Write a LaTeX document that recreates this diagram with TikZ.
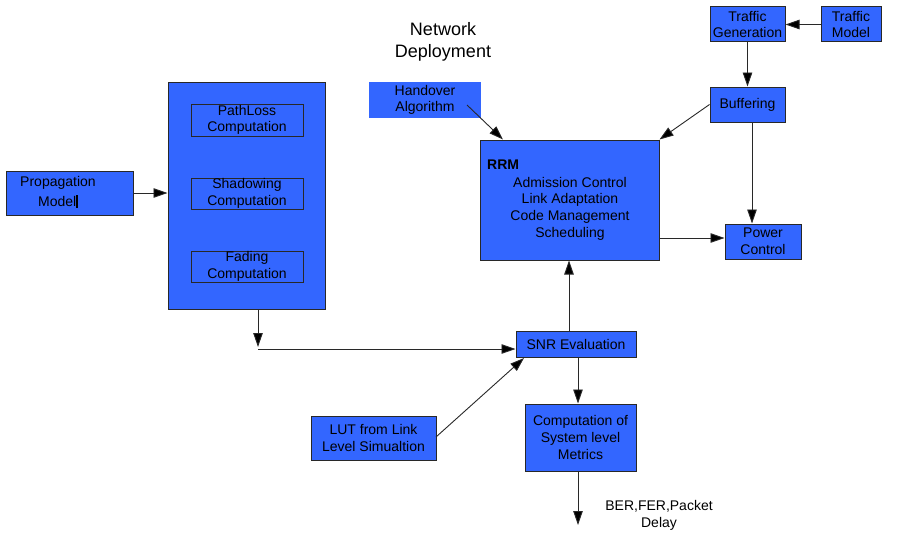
\documentclass[tikz,border=0pt]{standalone}
\usepackage{fontspec}
\setmainfont{Liberation Sans}
\usetikzlibrary{arrows.meta}
\definecolor{bfill}{RGB}{51,102,255}
\definecolor{lcol}{RGB}{40,40,40}
\begin{document}
\begin{tikzpicture}[x=1pt,y=-1pt,
  box/.style={draw=lcol, fill=bfill, line width=1pt, inner sep=0pt, align=center,
    font=\fontsize{14}{16.7}\selectfont},
  plain/.style={fill=bfill, inner sep=0pt, align=center, font=\fontsize{14}{16.7}\selectfont},
  txt/.style={inner sep=0pt, align=center, font=\fontsize{14}{16.7}\selectfont},
  arr/.style={draw=lcol, line width=0.9pt, -{Triangle[length=14pt,width=9.5pt,fill=black]}},
  ln/.style={draw=lcol, line width=0.9pt}]
\useasboundingbox (0,0) rectangle (899,535);
% boxes
\node[box, minimum width=127pt, minimum height=44pt] (prop) at (69.5,193) {};
\node[txt, font=\fontsize{14}{20}\selectfont] (propt) at (58,192) {Propagation\\Model\rule[-1.5pt]{1.6pt}{12.5pt}};
\node[box, minimum width=157pt, minimum height=227pt] (big) at (246.5,195.5) {};
\node[box, minimum width=112pt, minimum height=32pt] (pl) at (247,120) {PathLoss\\Computation};
\node[box, minimum width=112pt, minimum height=31pt] (sh) at (247,193.5) {Shadowing\\Computation};
\node[box, minimum width=112pt, minimum height=31pt] (fa) at (247,266.5) {Fading\\Computation};
\node[plain, minimum width=112pt, minimum height=36pt] (ho) at (425,100) {Handover\\Algorithm};
\node[txt, font=\fontsize{18}{22}\selectfont] (nd) at (443,41.5) {Network\\Deployment};
\node[box, minimum width=179pt, minimum height=120pt] (rrm) at (569.5,200) {};
\node[txt, anchor=west, font=\fontsize{14}{16.7}\selectfont\bfseries] (rrml) at (487,165) {RRM};
\node[txt] (rrmt) at (570,208.5) {Admission Control\\Link Adaptation\\Code Management\\Scheduling};
\node[box, minimum width=75pt, minimum height=35pt] (tg) at (747.5,24.5) {Traffic\\Generation};
\node[box, minimum width=60pt, minimum height=35pt] (tm) at (851,24.5) {Traffic\\Model};
\node[box, minimum width=75pt, minimum height=35pt] (buf) at (747.5,104.5) {Buffering};
\node[box, minimum width=76pt, minimum height=35pt] (pc) at (763,241.5) {Power\\Control};
\node[box, minimum width=120pt, minimum height=26pt] (snr) at (576,344) {SNR Evaluation};
\node[box, minimum width=125pt, minimum height=44pt] (lut) at (373.5,438) {LUT from Link\\Level Simualtion};
\node[box, minimum width=111pt, minimum height=67pt] (csm) at (580.5,437.5) {Computation of\\System level\\Metrics};
\node[txt, font=\fontsize{14}{17}\selectfont] (ber) at (659,515) {BER,FER,Packet\\Delay};
% helper coordinates
\coordinate (bd) at (258,347);
\coordinate (bj) at (258,349);
\coordinate (hs) at (467,105);
\coordinate (he) at (503,140);
\coordinate (pcx) at (752,0);
\coordinate (rpy) at (0,238);
\coordinate (ux) at (569,0);
\coordinate (le) at (524,358);
\coordinate (lx) at (436,437);
\coordinate (cx) at (578,0);
\coordinate (endc) at (578,525);
% connectors
\draw[arr] (prop.east) -- (prop.east -| big.west);
\draw[arr] (big.south -| bd) -- (bd);
\draw[arr] (bj) -- (bj -| snr.west);
\draw[arr] (hs) -- (rrm.north -| he);
\draw[arr] (buf.west) -- (rrm.north east);
\draw[arr] (tm.west) -- (tg.east);
\draw[arr] (tg.south) -- (buf.north);
\draw[arr] (buf.south -| pcx) -- (pc.north -| pcx);
\draw[arr] (rrm.east |- rpy) -- (pc.west |- rpy);
\draw[arr] (snr.north -| ux) -- (rrm.south -| ux);
\draw[arr] (lx) -- (le);
\draw[arr] (snr.south -| cx) -- (csm.north -| cx);
\draw[arr] (csm.south -| cx) -- (endc);
\end{tikzpicture}
\end{document}
